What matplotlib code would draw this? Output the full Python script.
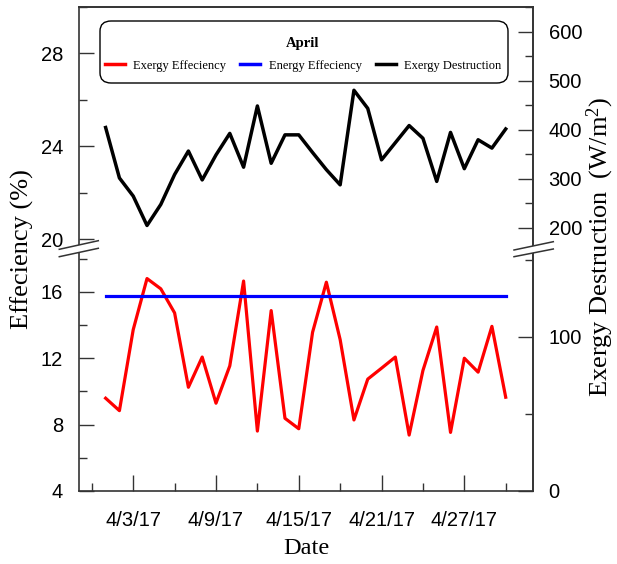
import matplotlib
matplotlib.use("Agg")
import matplotlib.pyplot as plt
import matplotlib.dates as mdates
from matplotlib.lines import Line2D
from matplotlib.patches import Polygon, FancyBboxPatch
from matplotlib.ticker import FixedLocator, FuncFormatter
import datetime as dt

plt.rcParams["mathtext.fontset"] = "custom"
plt.rcParams["mathtext.rm"] = "Liberation Serif"
plt.rcParams["mathtext.it"] = "Liberation Serif:italic"
plt.rcParams["mathtext.bf"] = "Liberation Serif:bold"

# ---------------- data ----------------
dates = [dt.date(2017, 4, d) for d in range(1, 31)]
exergy_eff = [9.59, 8.84, 13.72, 16.80, 16.18, 14.73, 10.25, 12.07, 9.29, 11.54,
              16.65, 7.61, 14.87, 8.38, 7.75, 13.56, 16.58, 13.12, 8.28, 10.74,
              11.40, 12.07, 7.37, 11.26, 13.88, 7.53, 12.00, 11.16, 13.92, 9.65]
energy_eff = [15.74] * 30
exergy_dest = [405, 302, 265, 205, 248, 309, 357, 298, 349, 393,
               324, 449, 332, 390, 390, 354, 319, 288, 481, 444,
               339, 374, 409, 383, 295, 395, 321, 380, 363, 402]

left_low_major = [4, 8, 12, 16]
left_low_minor = [6, 10, 14, 18]
left_up_major = [20, 24, 28]
left_up_minor = [22, 26, 30]
right_low_major = [0, 100]
right_low_minor = [50, 150]
right_up_major = [200, 300, 400, 500, 600]
right_up_minor = [250, 350, 450, 550, 650]
x_major_days = [3, 9, 15, 21, 27]
x_minor_days = [6, 12, 18, 24, 30, 31]

legend_title = "April"
labels = ["Exergy Effeciency", "Energy Effeciency", "Exergy Destruction"]

# ---------------- figure ----------------
W, H = 617, 564
fig = plt.figure(figsize=(W / 100, H / 100), dpi=100)

def fx(x):
    return x / W

def fy(y):
    return 1 - y / H

L, R, B, T, M = 79, 533.3, 491, 7, 249
ax1 = fig.add_axes([fx(L), fy(B), fx(R) - fx(L), fy(M) - fy(B)])
ax2 = fig.add_axes([fx(L), fy(M), fx(R) - fx(L), fy(T) - fy(M)])
ax1r = ax1.twinx()
ax2r = ax2.twinx()

spine_col = "#333333"
tick_family = "Liberation Sans"
tick_size = 14.5

x0 = mdates.date2num(dt.datetime(2017, 3, 30)) + 0.07
x1 = mdates.date2num(dt.datetime(2017, 5, 2))

lred, = ax1.plot(dates, exergy_eff, color="#ff0000", lw=2.3, zorder=3)
lblue, = ax1.plot(dates, energy_eff, color="#0000ff", lw=2.3, zorder=4)
lblack, = ax2r.plot(dates, exergy_dest, color="black", lw=2.5)

for a in (ax1, ax2, ax1r, ax2r):
    a.set_xlim(x0, x1)
    a.patch.set_visible(False)
    for s in a.spines.values():
        s.set_color(spine_col)
        s.set_linewidth(1.2)

ax1.set_ylim(4, 18.58)
ax2.set_ylim(19.57, 30)
ax1r.set_ylim(0, 157)
ax2r.set_ylim(157, 651)

# spines
ax1.spines["top"].set_visible(False)
ax1r.spines["top"].set_visible(False)
ax1r.spines["bottom"].set_visible(False)
ax1r.spines["left"].set_visible(False)
ax2.spines["bottom"].set_visible(False)
ax2r.spines["bottom"].set_visible(False)
ax2r.spines["left"].set_visible(False)

# y ticks
def set_y(a, major, minor, side):
    a.yaxis.set_major_locator(FixedLocator(major))
    a.yaxis.set_minor_locator(FixedLocator(minor))
    a.yaxis.set_major_formatter(FuncFormatter(lambda v, p: f"{v:g}"))
    a.tick_params(axis="y", which="major", direction="in", length=10.5, width=1.0,
                  color=spine_col, pad=11.5 if side == "left" else 11)
    a.tick_params(axis="y", which="minor", direction="in", length=5.5, width=1.0,
                  color=spine_col)
    for lab in a.get_yticklabels():
        lab.set_fontfamily(tick_family)
        lab.set_fontsize(tick_size)

set_y(ax1, left_low_major, left_low_minor, "left")
set_y(ax2, left_up_major, left_up_minor, "left")
set_y(ax1r, right_low_major, right_low_minor, "right")
set_y(ax2r, right_up_major, right_up_minor, "right")

# x ticks
ax1.xaxis.set_major_locator(mdates.DayLocator(bymonthday=x_major_days))
ax1.xaxis.set_minor_locator(mdates.DayLocator(bymonthday=x_minor_days))
ax1.xaxis.set_major_formatter(FuncFormatter(
    lambda v, p: (lambda d: f"{d.month}/{d.day}/{d.year % 100}")(mdates.num2date(v))))
ax1.tick_params(axis="x", which="major", direction="in", length=11.5, width=1.0,
                color=spine_col, pad=14.5, labelsize=tick_size)
ax1.tick_params(axis="x", which="minor", direction="in", length=5.5, width=1.0,
                color=spine_col)
for lab in ax1.get_xticklabels():
    lab.set_fontfamily(tick_family)
for a in (ax2, ax1r, ax2r):
    a.tick_params(axis="x", which="both", bottom=False, top=False,
                  labelbottom=False, labeltop=False)

# axis labels
serif = "Liberation Serif"
fig.text(fx(22), fy(249), "Effeciency (%)", rotation=90, ha="center", va="center",
         fontsize=19, family=serif)
fig.text(fx(600), fy(247), "Exergy Destruction  (W/m$^{\\mathrm{2}}$)", rotation=90,
         ha="center", va="center", fontsize=19, family=serif)
fig.text(fx(306), fy(548), "Date", ha="center", va="center", fontsize=17.5, family=serif)

# break marks
def brk(xa, ya1, xb, yb1, ya2, yb2):
    poly = Polygon([[fx(xa), fy(ya1)], [fx(xb), fy(yb1)], [fx(xb), fy(yb2)], [fx(xa), fy(ya2)]],
                   closed=True, facecolor="white", edgecolor="none",
                   transform=fig.transFigure, zorder=10)
    fig.add_artist(poly)
    for (y_a, y_b) in ((ya1, yb1), (ya2, yb2)):
        fig.add_artist(Line2D([fx(xa), fx(xb)], [fy(y_a), fy(y_b)], color=spine_col,
                              lw=1.1, transform=fig.transFigure, zorder=11))

brk(59.3, 249.3, 98.3, 240.7, 256.7, 248.3)
brk(514, 250, 553.3, 241.7, 256.7, 249)

# legend box
box = FancyBboxPatch((fx(100), fy(83)), fx(508) - fx(100), fy(21) - fy(83),
                     boxstyle="round,pad=0,rounding_size=0.018",
                     transform=fig.transFigure, facecolor="white", edgecolor="black",
                     lw=1.0, zorder=19)
fig.add_artist(box)

leg = fig.legend([lred, lblue, lblack], labels, loc="center",
                 bbox_to_anchor=(fx(303), fy(54)), ncol=3, frameon=False,
                 prop={"family": serif, "size": 9},
                 title=legend_title,
                 title_fontproperties={"family": serif, "size": 10.5, "weight": "bold"},
                 handlelength=1.6, handletextpad=0.7, columnspacing=1.1,
                 borderpad=0, labelspacing=0.8)
for h in leg.legend_handles:
    h.set_linewidth(2.5)
leg.set_zorder(20)

fig.savefig("out.png", dpi=100)
